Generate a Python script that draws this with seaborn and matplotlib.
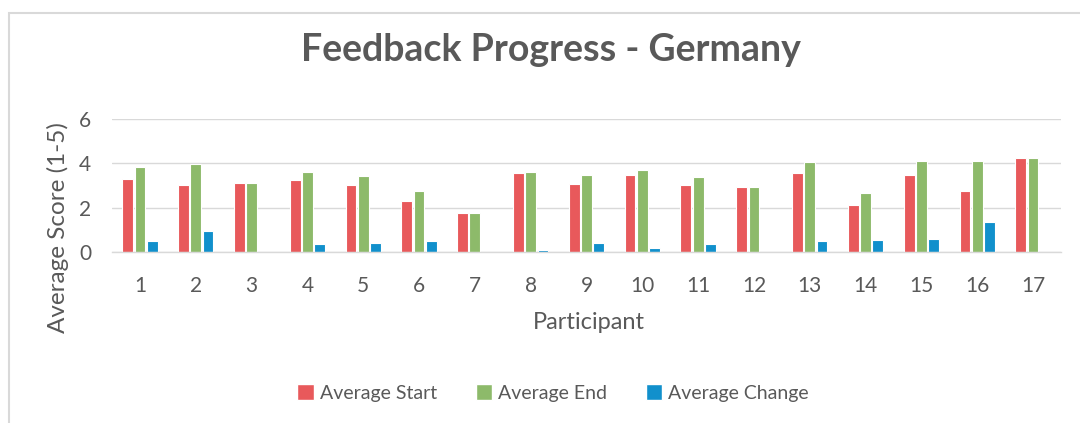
import matplotlib
matplotlib.use("Agg")
import matplotlib.pyplot as plt
import seaborn as sns
import pandas as pd
from matplotlib.patches import Rectangle, Patch

participants = [str(i) for i in range(1, 18)]
avg_start = [3.31, 3.01, 3.13, 3.25, 3.01, 2.28, 1.75, 3.55, 3.07, 3.48, 3.01, 2.95, 3.55, 2.10, 3.48, 2.74, 4.22]
avg_end = [3.82, 3.96, 3.13, 3.61, 3.42, 2.74, 1.75, 3.61, 3.48, 3.72, 3.37, 2.95, 4.06, 2.67, 4.12, 4.12, 4.22]
avg_change = [0.48, 0.94, 0.0, 0.37, 0.42, 0.48, 0.0, 0.09, 0.42, 0.18, 0.36, 0.0, 0.48, 0.54, 0.60, 1.35, 0.0]
series_names = ["Average Start", "Average End", "Average Change"]
colors = ["#E8595B", "#8DBA6A", "#1190CC"]
yticks = [0, 2, 4, 6]

df = pd.DataFrame({
    "Participant": participants * 3,
    "Value": avg_start + avg_end + avg_change,
    "Series": [series_names[0]] * 17 + [series_names[1]] * 17 + [series_names[2]] * 17,
})

sns.set_theme(style="white")
plt.rcParams['font.family'] = ['Lato', 'DejaVu Sans']

fig = plt.figure(figsize=(10.8, 4.23), dpi=100)
fig.patch.set_facecolor("white")
ax = fig.add_axes([112 / 1080, 1 - 252 / 423, 949 / 1080, 133 / 423])

sns.barplot(data=df, x="Participant", y="Value", hue="Series", order=participants,
            hue_order=series_names, palette=colors, saturation=1, width=0.66, gap=0.12,
            edgecolor="white", linewidth=0.8, ax=ax, legend=False)

ax.set_ylim(0, 6)
ax.set_yticks(yticks)
ax.set_xlim(-0.5, 16.5)
ax.yaxis.grid(True, color="#D9D9D9", linewidth=1)
ax.set_axisbelow(True)
for s in ["top", "right", "left"]:
    ax.spines[s].set_visible(False)
ax.spines["bottom"].set_color("#D9D9D9")
ax.spines["bottom"].set_linewidth(1)
ax.tick_params(axis="both", length=0, labelsize=15, labelcolor="#595959")
ax.tick_params(axis="x", pad=17)
ax.tick_params(axis="y", pad=15)
ax.set_xlabel("")
ax.set_ylabel("")

fig.text(589 / 1080, 1 - 322 / 423, "Participant", ha="center", va="center",
         fontsize=17, color="#595959")
fig.text(58 / 1080, 1 - 228 / 423, "Average Score (1-5)", rotation=90, ha="center", va="center",
         fontsize=17.5, color="#595959")

fig.text(551 / 1080, 1 - 50 / 423, "Feedback Progress - Germany", ha="center", va="center",
         fontsize=27, fontweight="bold", color="#595959")

handles = [Patch(facecolor=c, edgecolor="white") for c in colors]
fig.legend(handles, series_names, loc="center", bbox_to_anchor=(553 / 1080, 1 - 393 / 423),
           ncol=3, frameon=False, fontsize=14, labelcolor="#595959", handlelength=0.85,
           handleheight=0.85, handletextpad=0.3, columnspacing=2.0)

fig.add_artist(Rectangle((9 / 1080, -0.05), 1.2, 1 - 13 / 423 + 0.05, transform=fig.transFigure,
                         fill=False, edgecolor="#D9D9D9", linewidth=1.5))

fig.savefig("out.png", dpi=100, facecolor="white")
